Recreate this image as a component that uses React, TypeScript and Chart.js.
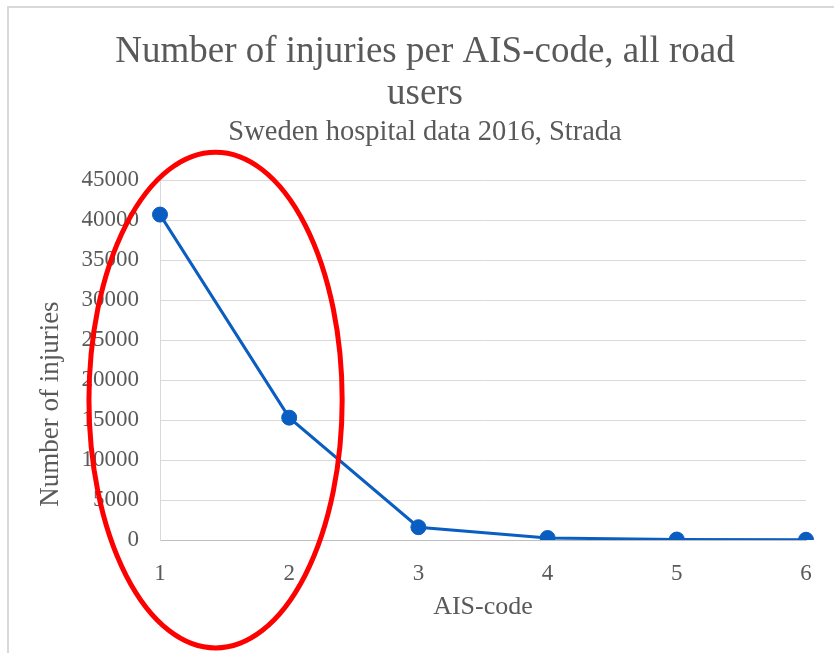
import React, { useEffect, useRef } from 'react';
import { Chart, registerables } from 'chart.js';

Chart.register(...registerables);

const aisCodes = ['1', '2', '3', '4', '5', '6'];
const injuries = [40700, 15300, 1600, 250, 60, 30];
const yMin = 0;
const yMax = 45000;
const yStep = 5000;
const titleLines = ['Number of injuries per AIS-code, all road', 'users'];
const subtitleText = 'Sweden hospital data 2016, Strada';
const xAxisTitle = 'AIS-code';
const yAxisTitle = 'Number of injuries';
// highlight ellipse, in data units (category index / value)
const ellipseCenter = { index: 0.43, value: 17500 };
const ellipseRadius = { index: 0.98, value: 31000 };

const FONT = '"Liberation Serif", "Times New Roman", serif';
const TEXT = '#595959';
const BLUE = '#0a5ec2';

const overlayPlugin = {
  id: 'overlay',
  beforeDraw(chart: any) {
    const ctx = chart.ctx;
    ctx.save();
    ctx.strokeStyle = '#d9d9d9';
    ctx.lineWidth = 2;
    ctx.beginPath();
    ctx.moveTo(8, chart.height);
    ctx.lineTo(8, 7);
    ctx.lineTo(chart.width, 7);
    ctx.stroke();
    ctx.restore();
  },
  afterDraw(chart: any) {
    const { ctx, chartArea } = chart;
    const x = chart.scales.x;
    const y = chart.scales.y;
    ctx.save();
    ctx.translate(51, (chartArea.top + chartArea.bottom) / 2 + 44);
    ctx.rotate(-Math.PI / 2);
    ctx.font = `27px ${FONT}`;
    ctx.fillStyle = TEXT;
    ctx.textAlign = 'center';
    ctx.textBaseline = 'middle';
    ctx.fillText(yAxisTitle, 0, 0);
    ctx.restore();

    const cx = x.getPixelForValue(ellipseCenter.index);
    const cy = y.getPixelForValue(ellipseCenter.value);
    const rx = x.getPixelForValue(ellipseCenter.index + ellipseRadius.index) - cx;
    const ry = cy - y.getPixelForValue(ellipseCenter.value + ellipseRadius.value);
    ctx.save();
    ctx.beginPath();
    ctx.ellipse(cx, cy, rx, ry, 0, 0, Math.PI * 2);
    ctx.lineWidth = 5;
    ctx.strokeStyle = '#ff0000';
    ctx.stroke();
    ctx.restore();
  },
};

export default function App() {
  const ref = useRef<HTMLCanvasElement | null>(null);
  useEffect(() => {
    if (!ref.current) return;
    Chart.defaults.font.family = FONT;
    const chart = new Chart(ref.current, {
      type: 'line',
      data: {
        labels: aisCodes,
        datasets: [
          {
            data: injuries,
            borderColor: BLUE,
            backgroundColor: BLUE,
            borderWidth: 3,
            pointRadius: 7.5,
            pointBackgroundColor: BLUE,
            pointBorderColor: BLUE,
            pointBorderWidth: 1,
            tension: 0,
          },
        ],
      },
      options: {
        responsive: false,
        animation: false,
        layout: { padding: { top: 0, right: 0, bottom: 0, left: 16 } },
        plugins: {
          legend: { display: false },
          tooltip: { enabled: false },
          title: {
            display: true,
            text: titleLines,
            color: TEXT,
            font: { family: FONT, size: 37, weight: 'normal', lineHeight: 1.135 },
            padding: { top: 31, bottom: 0 },
          },
          subtitle: {
            display: true,
            text: subtitleText,
            color: TEXT,
            font: { family: FONT, size: 28.5, weight: 'normal', lineHeight: 1.2 },
            padding: { top: 0, bottom: 31 },
          },
        },
        scales: {
          x: {
            grid: { display: false },
            border: { color: '#bfbfbf', width: 1 },
            ticks: { color: TEXT, font: { family: FONT, size: 23 }, padding: 12 },
            title: {
              display: true,
              text: xAxisTitle,
              color: TEXT,
              font: { family: FONT, size: 26 },
              padding: { top: 0, bottom: 30 },
            },
            afterFit(s: any) {
              s.height = 113;
            },
          },
          y: {
            min: yMin,
            max: yMax,
            ticks: {
              stepSize: yStep,
              color: TEXT,
              font: { family: FONT, size: 23 },
              padding: 21,
              callback: (v: any) => String(v),
            },
            grid: { color: '#d9d9d9', drawTicks: false },
            border: { color: '#d9d9d9' },
            afterFit(s: any) {
              s.width = 144;
            },
          },
          spacer: {
            type: 'linear',
            position: 'right',
            display: true,
            grid: { display: false },
            border: { display: false },
            ticks: { display: false },
            afterFit(s: any) {
              s.width = 28;
            },
          },
        },
      },
      plugins: [overlayPlugin],
    } as any);
    return () => chart.destroy();
  }, []);
  return (
    <div style={{ position: 'absolute', left: 0, top: 0, width: 834, height: 653, overflow: 'hidden', background: '#fff' }}>
      <canvas ref={ref} width={834} height={653} style={{ display: 'block' }} />
    </div>
  );
}
